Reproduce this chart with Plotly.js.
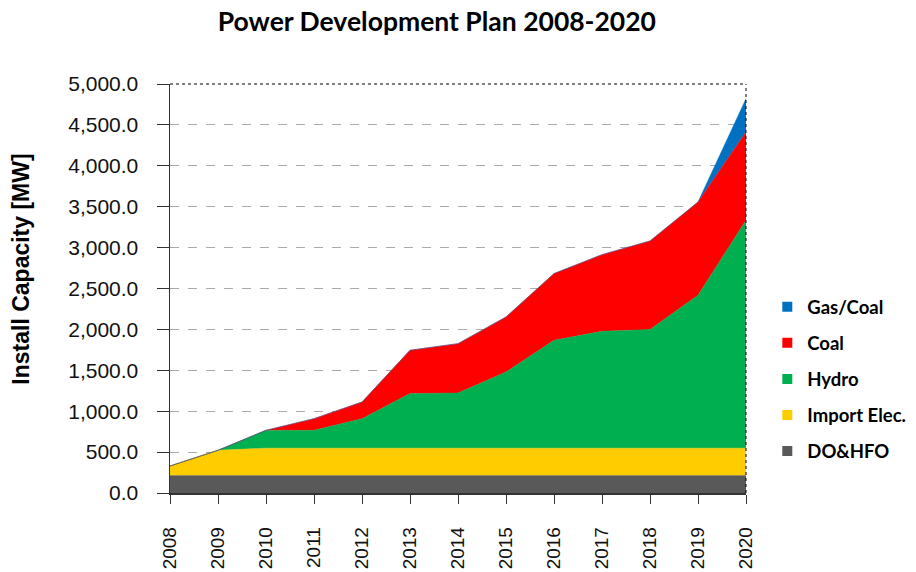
<!DOCTYPE html>
<html>
<head>
<meta charset="utf-8">
<script src="https://cdn.plot.ly/plotly-3.0.1.min.js"></script>
<style>html,body{margin:0;padding:0;background:#fff;}#chart{width:916px;height:572px;}</style>
</head>
<body>
<div id="chart"></div>
<script>
const years = [2008,2009,2010,2011,2012,2013,2014,2015,2016,2017,2018,2019,2020];
const doHfo   = [213,213,213,213,213,213,213,213,213,213,213,213,213];
const importElec = [117,309,335,335,335,335,335,335,335,335,335,335,335];
const hydro   = [0,0,218,218,361,667,674,931,1319,1429,1450,1869,2786];
const coal    = [0,0,0,143,203,530,604,673,815,937,1083,1140,1079];
const gasCoal = [0,0,0,0,0,0,0,0,0,0,0,0,408];
const yTicks = [0,500,1000,1500,2000,2500,3000,3500,4000,4500,5000];

const series = [
  {name:'DO&HFO', y:doHfo, color:'#595959'},
  {name:'Import Elec.', y:importElec, color:'#FFCC00'},
  {name:'Hydro', y:hydro, color:'#00B050'},
  {name:'Coal', y:coal, color:'#FF0000'},
  {name:'Gas/Coal', y:gasCoal, color:'#0070C0'}
];

const traces = [];
series.forEach(s => {
  traces.push({
    type:'scatter', x:years, y:s.y, name:s.name, stackgroup:'one',
    mode:'lines', line:{color:s.color, width:0.5}, fillcolor:s.color,
    showlegend:false, hoverinfo:'x+y+name'
  });
});
series.slice().reverse().forEach(s => {
  traces.push({
    type:'scatter', x:[null], y:[null], name:s.name, mode:'markers',
    marker:{symbol:'square', size:10, color:s.color}, legendgroup:s.name,
    showlegend:true
  });
});

const yTickFont = {family:'"Liberation Sans", Arial, sans-serif', size:21, color:'#111'};
const xTickFont = {family:'"Liberation Sans", Arial, sans-serif', size:19, color:'#111'};

const layout = {
  width:916, height:572,
  margin:{l:170, r:170, t:84, b:79, autoexpand:false},
  paper_bgcolor:'#fff', plot_bgcolor:'#fff',
  title:{text:'Power Development Plan 2008-2020', x:0.477, xanchor:'center', y:0.962, yanchor:'middle',
    font:{family:'Lato, "Open Sans", sans-serif', size:26.5, color:'#000', weight:'bold'}},
  xaxis:{range:[2008,2020], tickvals:years, ticktext:years.map(String), tickangle:-90,
    showgrid:false, zeroline:false, showline:true, linecolor:'#333', linewidth:1.5,
    ticks:'outside', ticklen:9, tickcolor:'#333', ticklabelstandoff:16,
    tickfont:xTickFont},
  yaxis:{range:[0,5000], tickvals:yTicks, tickformat:',.1f',
    showgrid:true, gridcolor:'#aaa', griddash:'dash', gridwidth:1,
    zeroline:false, showline:true, linecolor:'#333', linewidth:1.5,
    ticks:'outside', ticklen:12, tickcolor:'#333', ticklabelstandoff:14,
    tickfont:yTickFont},
  legend:{x:1.037, xanchor:'left', y:0.278, yanchor:'middle', traceorder:'grouped',
    tracegroupgap:9, itemwidth:30,
    font:{family:'Lato, "Open Sans", sans-serif', size:18.5, color:'#000', weight:'bold'}},
  annotations:[{text:'Install Capacity [MW]', xref:'paper', yref:'paper',
    x:-0.258, y:0.547, textangle:-90, showarrow:false, xanchor:'center', yanchor:'middle',
    font:{family:'"Liberation Sans", Arial, sans-serif', size:23, color:'#000', weight:'bold'}}],
  shapes:[
    {type:'line', xref:'paper', yref:'paper', x0:0, x1:1, y0:1, y1:1, line:{color:'#000', width:1, dash:'dot'}},
    {type:'line', xref:'paper', yref:'paper', x0:1, x1:1, y0:0, y1:1, line:{color:'#000', width:1, dash:'dot'}}
  ],
  hovermode:'x'
};

Plotly.newPlot('chart', traces, layout, {displayModeBar:false, staticPlot:true});
</script>
</body>
</html>
